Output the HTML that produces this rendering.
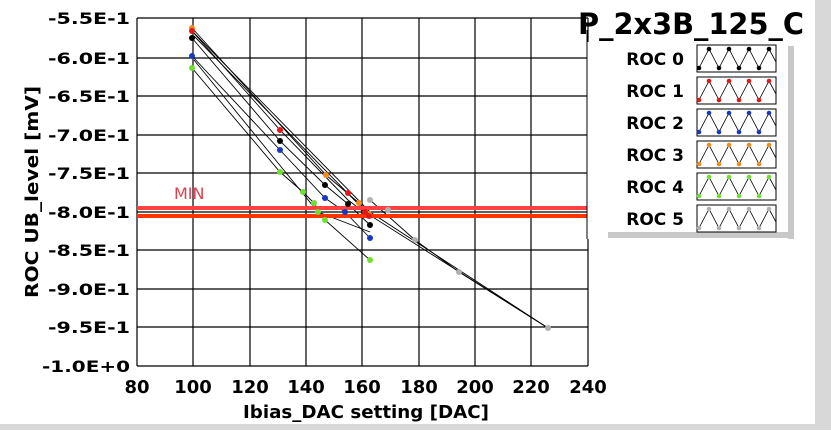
<!DOCTYPE html>
<html><head><meta charset="utf-8"><style>
body{margin:0;background:#fff;width:831px;height:430px;overflow:hidden}
</style></head><body>
<svg width="831" height="430" viewBox="0 0 831 430" xmlns="http://www.w3.org/2000/svg" font-family="DejaVu Sans, sans-serif">
<rect x="0" y="0" width="831" height="430" fill="#fff"/>
<rect x="815" y="0" width="16" height="430" fill="#d8d8d8"/>
<rect x="0" y="424" width="831" height="6" fill="#d8d8d8"/>
<g stroke="#000" stroke-width="1.2">
<line x1="137" y1="18" x2="588" y2="18"/><line x1="137" y1="58" x2="588" y2="58"/><line x1="137" y1="96" x2="588" y2="96"/><line x1="137" y1="135" x2="588" y2="135"/><line x1="137" y1="173" x2="588" y2="173"/><line x1="137" y1="212" x2="588" y2="212"/><line x1="137" y1="250" x2="588" y2="250"/><line x1="137" y1="289" x2="588" y2="289"/><line x1="137" y1="327" x2="588" y2="327"/><line x1="137" y1="366" x2="588" y2="366"/>
<line x1="137" y1="18" x2="137" y2="366"/><line x1="193" y1="18" x2="193" y2="366"/><line x1="250" y1="18" x2="250" y2="366"/><line x1="306" y1="18" x2="306" y2="366"/><line x1="362" y1="18" x2="362" y2="366"/><line x1="419" y1="18" x2="419" y2="366"/><line x1="475" y1="18" x2="475" y2="366"/><line x1="531" y1="18" x2="531" y2="366"/><line x1="588" y1="18" x2="588" y2="366"/>
</g>
<g font-size="16" font-weight="bold" text-anchor="end">
<text x="130" y="24" textLength="82" lengthAdjust="spacingAndGlyphs">-5.5E-1</text><text x="130" y="64" textLength="82" lengthAdjust="spacingAndGlyphs">-6.0E-1</text><text x="130" y="102" textLength="82" lengthAdjust="spacingAndGlyphs">-6.5E-1</text><text x="130" y="141" textLength="82" lengthAdjust="spacingAndGlyphs">-7.0E-1</text><text x="130" y="179" textLength="82" lengthAdjust="spacingAndGlyphs">-7.5E-1</text><text x="130" y="218" textLength="82" lengthAdjust="spacingAndGlyphs">-8.0E-1</text><text x="130" y="256" textLength="82" lengthAdjust="spacingAndGlyphs">-8.5E-1</text><text x="130" y="295" textLength="82" lengthAdjust="spacingAndGlyphs">-9.0E-1</text><text x="130" y="333" textLength="82" lengthAdjust="spacingAndGlyphs">-9.5E-1</text><text x="130" y="372" textLength="88" lengthAdjust="spacingAndGlyphs">-1.0E+0</text>
</g>
<g font-size="18" font-weight="bold" text-anchor="middle">
<text x="137" y="393">80</text><text x="193" y="393">100</text><text x="250" y="393">120</text><text x="306" y="393">140</text><text x="362" y="393">160</text><text x="419" y="393">180</text><text x="475" y="393">200</text><text x="531" y="393">220</text><text x="588" y="393">240</text>
</g>
<text x="366" y="418" font-size="18" font-weight="bold" text-anchor="middle" textLength="246" lengthAdjust="spacingAndGlyphs">Ibias_DAC setting [DAC]</text>
<text transform="translate(38,192) rotate(-90)" font-size="18" font-weight="bold" text-anchor="middle" textLength="212" lengthAdjust="spacingAndGlyphs">ROC UB_level [mV]</text>
<g stroke="#000" stroke-width="0.9" fill="none">
<polyline points="192,28 326,175 359,203 369,214"/>
<polyline points="192,31 280,130 348,200 369,216"/>
<polyline points="192,38 280,141 325,185 348,204 370,225"/>
<polyline points="192,56 280,150 325,198 345,212 370,238"/>
<polyline points="192,68 280,172 303,192 314,203 325,220 370,260"/>
<polyline points="194,33 370,212 548,328"/>
<polyline points="194,36 368,214 548,328"/>
<polyline points="370,200 415,240 459,272 548,328"/>
<polyline points="194,60 318,212 370,232"/>
</g>
<rect x="137" y="206" width="451" height="4" fill="#ff4040"/>
<rect x="137" y="214" width="451" height="4" fill="#ff3300"/>
<text x="174" y="199" font-size="16" fill="#e04050">MIN</text>
<g>
<circle cx="192" cy="28" r="3" fill="#f08c1c"/><circle cx="326" cy="175" r="3" fill="#f08c1c"/><circle cx="359" cy="203" r="3" fill="#f08c1c"/><circle cx="369" cy="214" r="3" fill="#f08c1c"/>
<circle cx="192" cy="31" r="3" fill="#e01818"/><circle cx="280" cy="130" r="3" fill="#e01818"/><circle cx="348" cy="193" r="3" fill="#e01818"/><circle cx="369" cy="216" r="3" fill="#e01818"/><circle cx="365" cy="212" r="3" fill="#e01818"/>
<circle cx="192" cy="38" r="3" fill="#000"/><circle cx="280" cy="141" r="3" fill="#000"/><circle cx="325" cy="185" r="3" fill="#000"/><circle cx="348" cy="204" r="3" fill="#000"/><circle cx="370" cy="225" r="3" fill="#000"/>
<circle cx="192" cy="56" r="3" fill="#1838c0"/><circle cx="280" cy="150" r="3" fill="#1838c0"/><circle cx="325" cy="198" r="3" fill="#1838c0"/><circle cx="345" cy="212" r="3" fill="#1838c0"/><circle cx="370" cy="238" r="3" fill="#1838c0"/>
<circle cx="192" cy="68" r="3" fill="#70e030"/><circle cx="280" cy="172" r="3" fill="#70e030"/><circle cx="303" cy="192" r="3" fill="#70e030"/><circle cx="314" cy="203" r="3" fill="#70e030"/><circle cx="318" cy="212" r="3" fill="#70e030"/><circle cx="325" cy="220" r="3" fill="#70e030"/><circle cx="370" cy="260" r="3" fill="#70e030"/>
<circle cx="370" cy="200" r="3" fill="#b0b0b0"/><circle cx="388" cy="210" r="3" fill="#b0b0b0"/><circle cx="415" cy="240" r="3" fill="#b0b0b0"/><circle cx="459" cy="272" r="3" fill="#b0b0b0"/><circle cx="548" cy="328" r="3" fill="#b0b0b0"/>
</g>
<rect x="587" y="42" width="210" height="197" fill="#fff"/>
<rect x="788" y="46" width="6" height="193" fill="#c8c8c8"/>
<rect x="608" y="232" width="186" height="6" fill="#c8c8c8"/>
<line x1="587" y1="30" x2="587" y2="239" stroke="#000" stroke-width="1"/>
<text x="691" y="34" font-size="29" font-weight="bold" text-anchor="middle" textLength="226" lengthAdjust="spacingAndGlyphs">P_2x3B_125_C</text>
<g font-size="17" font-weight="bold" text-anchor="end">
<text x="684" y="65">ROC 0</text><text x="684" y="97">ROC 1</text><text x="684" y="129">ROC 2</text><text x="684" y="161">ROC 3</text><text x="684" y="193">ROC 4</text><text x="684" y="225">ROC 5</text>
</g>
<defs>
<g id="zz"><rect x="0" y="0" width="79" height="27" fill="#fff" stroke="#000" stroke-width="1"/><polyline points="2,23 12,4 22,23 32,4 42,23 52,4 62,23 72,4 79,17" fill="none" stroke="#000" stroke-width="0.8"/></g>
</defs>
<g transform="translate(697,45)"><use href="#zz"/><g fill="#000"><circle cx="2" cy="23" r="2.3"/><circle cx="12" cy="4" r="2.3"/><circle cx="22" cy="23" r="2.3"/><circle cx="32" cy="4" r="2.3"/><circle cx="42" cy="23" r="2.3"/><circle cx="52" cy="4" r="2.3"/><circle cx="62" cy="23" r="2.3"/><circle cx="72" cy="4" r="2.3"/></g></g>
<g transform="translate(697,77)"><use href="#zz"/><g fill="#e01818"><circle cx="2" cy="23" r="2.3"/><circle cx="12" cy="4" r="2.3"/><circle cx="22" cy="23" r="2.3"/><circle cx="32" cy="4" r="2.3"/><circle cx="42" cy="23" r="2.3"/><circle cx="52" cy="4" r="2.3"/><circle cx="62" cy="23" r="2.3"/><circle cx="72" cy="4" r="2.3"/></g></g>
<g transform="translate(697,109)"><use href="#zz"/><g fill="#1838c0"><circle cx="2" cy="23" r="2.3"/><circle cx="12" cy="4" r="2.3"/><circle cx="22" cy="23" r="2.3"/><circle cx="32" cy="4" r="2.3"/><circle cx="42" cy="23" r="2.3"/><circle cx="52" cy="4" r="2.3"/><circle cx="62" cy="23" r="2.3"/><circle cx="72" cy="4" r="2.3"/></g></g>
<g transform="translate(697,141)"><use href="#zz"/><g fill="#f08c1c"><circle cx="2" cy="23" r="2.3"/><circle cx="12" cy="4" r="2.3"/><circle cx="22" cy="23" r="2.3"/><circle cx="32" cy="4" r="2.3"/><circle cx="42" cy="23" r="2.3"/><circle cx="52" cy="4" r="2.3"/><circle cx="62" cy="23" r="2.3"/><circle cx="72" cy="4" r="2.3"/></g></g>
<g transform="translate(697,173)"><use href="#zz"/><g fill="#70e030"><circle cx="2" cy="23" r="2.3"/><circle cx="12" cy="4" r="2.3"/><circle cx="22" cy="23" r="2.3"/><circle cx="32" cy="4" r="2.3"/><circle cx="42" cy="23" r="2.3"/><circle cx="52" cy="4" r="2.3"/><circle cx="62" cy="23" r="2.3"/><circle cx="72" cy="4" r="2.3"/></g></g>
<g transform="translate(697,205)"><use href="#zz"/><g fill="#b0b0b0"><circle cx="2" cy="23" r="2.3"/><circle cx="12" cy="4" r="2.3"/><circle cx="22" cy="23" r="2.3"/><circle cx="32" cy="4" r="2.3"/><circle cx="42" cy="23" r="2.3"/><circle cx="52" cy="4" r="2.3"/><circle cx="62" cy="23" r="2.3"/><circle cx="72" cy="4" r="2.3"/></g></g>
</svg>
</body></html>
